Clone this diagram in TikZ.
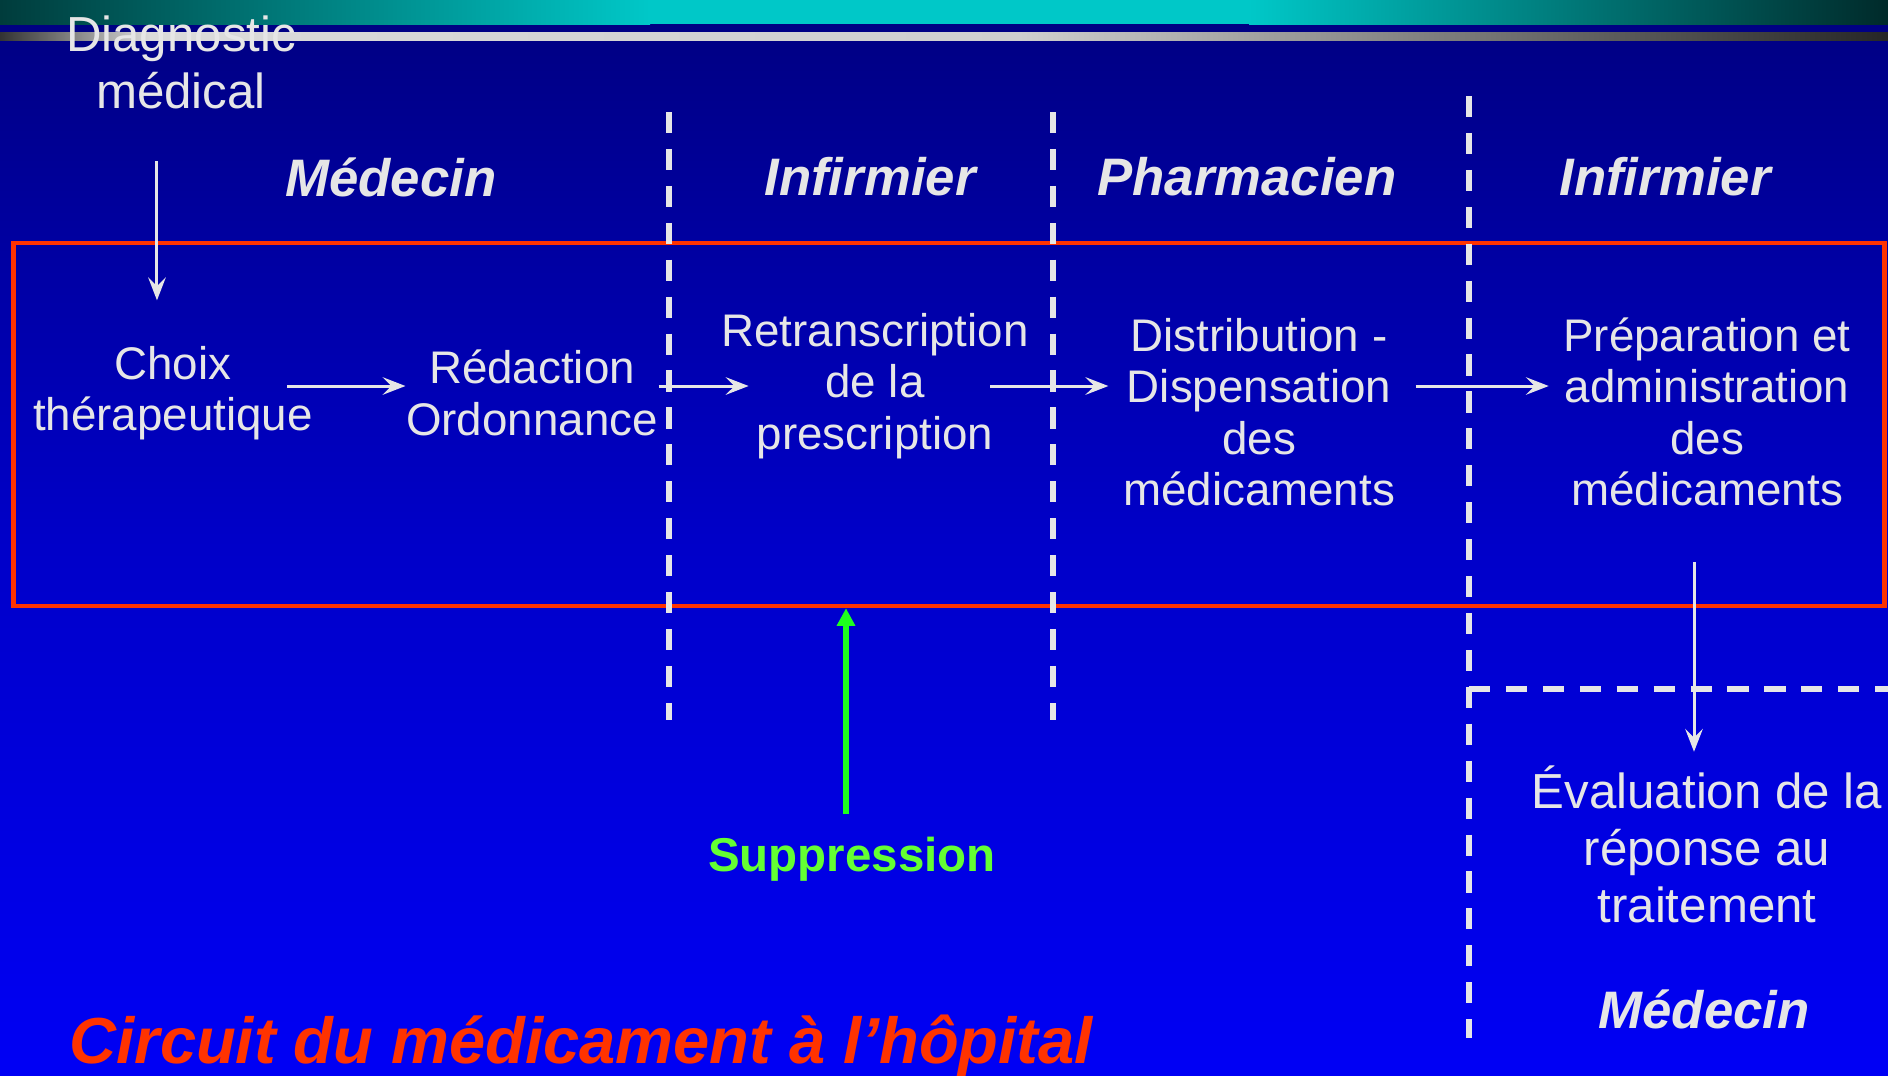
\documentclass[tikz,border=0pt]{standalone}
\usepackage{fontspec}
\setmainfont{Liberation Sans}
\usetikzlibrary{arrows.meta,positioning}

\definecolor{navytop}{RGB}{0,0,128}
\definecolor{bluemid}{RGB}{0,0,200}
\definecolor{bluebot}{RGB}{0,0,245}
\definecolor{tealdark}{RGB}{0,60,60}
\definecolor{tealbright}{RGB}{0,200,200}
\definecolor{redorange}{RGB}{255,51,0}
\definecolor{pale}{RGB}{230,230,230}
\definecolor{supgreen}{RGB}{30,255,30}
\definecolor{suptext}{RGB}{100,255,50}

\tikzset{
    etape/.style={text=pale, align=center, inner sep=0pt, font=\fontsize{13}{14.6}\selectfont},
    titre/.style={text=pale, align=center, inner sep=0pt, font=\fontsize{14}{16.2}\selectfont},
    role/.style={text=pale, inner sep=0pt, font=\fontsize{15}{18}\selectfont\bfseries\itshape},
    fleche/.style={draw=pale, line width=0.85pt, -{Stealth[length=6.5pt, width=5pt, inset=2.5pt]}},
    pointille/.style={draw=pale, line width=1.5pt, dash pattern=on 6pt off 4.5pt},
    cadre/.style={draw=redorange, line width=1.2pt, inner sep=0pt}
}

\begin{document}
\begin{tikzpicture}[x=0.01cm, y=-0.01cm]
    \useasboundingbox (0,0) rectangle (1888,1075);

    % Background
    \shade[top color=navytop, bottom color=bluebot, middle color=bluemid] (0,0) rectangle (1888,1075);
    \shade[left color=tealdark, right color=tealbright] (0,0) rectangle (650,24);
    \fill[tealbright] (649,0) rectangle (1250,24);
    \shade[left color=tealbright, right color=tealdark!70!black] (1249,0) rectangle (1888,24);
    \shade[left color=black!80, right color=pale!95!black] (0,32) rectangle (150,40);
    \shade[left color=pale!95!black, right color=black!85, middle color=pale!90!black] (150,32) rectangle (1888,40);

    % Frame and separators
    \node[cadre, minimum width=18.70cm, minimum height=3.63cm] (box) at (949,424.5) {};
    \draw[pointille] (669,112) -- (669,720);
    \draw[pointille] (1053,112) -- (1053,720);
    \draw[pointille] (1469,96) -- (1469,1038);
    \draw[pointille] (1469,689) -- (1888,689);

    % Roles
    \node[role] (med) at (391,177) {Médecin};
    \node[role] (inf) at (870,177) {Infirmier};
    \node[role] (pharma) at (1247,177) {Pharmacien};
    \node[role] (inf2) at (1665,177) {Infirmier};
    \node[role] (med2) at (1704,1009) {Médecin};

    % Steps
    \node[titre] (diag) at (181,62) {Diagnostic\\médical};
    \node[etape] (choix) at (173,393) {Choix\\thérapeutique};
    \node[etape] (redac) at (532,393) {Rédaction\\Ordonnance};
    \node[etape] (retrans) at (875,386) {Retranscription\\de la\\prescription};
    \node[etape] (distrib) at (1259,412) {Distribution -\\Dispensation\\des\\médicaments};
    \node[etape] (prep) at (1707,412) {Préparation et\\administration\\des\\médicaments};
    \node[titre] (eval) at (1707,844) {Évaluation de la\\réponse au\\traitement};
    \node[text=suptext, inner sep=0pt, font=\fontsize{13.5}{16}\selectfont\bfseries] (supp) at (852,859) {Suppression};

    % Flow
    \draw[fleche, shorten <=0.52cm, shorten >=0.45cm] ([xshift=-0.24cm]diag.south) -- ([xshift=-0.24cm]diag.south |- choix.north);
    \draw[fleche, shorten <=-0.26cm] (choix.east |- retrans.east) -- (redac.west |- retrans.east);
    \draw[fleche, shorten >=-0.28cm] (redac.east |- retrans.east) -- (retrans.west);
    \draw[fleche, shorten <=-0.39cm, shorten >=0.14cm] (retrans.east) -- (retrans.east -| distrib.west);
    \draw[fleche, shorten <=0.2cm, shorten >=0.14cm] (retrans.east -| distrib.east) -- (retrans.east -| prep.west);
    \draw[fleche, shorten <=0.55cm, shorten >=0.13cm] ([xshift=-0.13cm]prep.south) -- ([xshift=-0.13cm]prep.south |- eval.north);
    \draw[draw=supgreen, line width=1.7pt, -{Triangle[length=5pt, width=5pt]}, shorten <=0.22cm] ([xshift=-0.06cm]supp.north) -- ([xshift=-0.06cm]supp.north |- box.south);

    % Title
    \node[text=redorange, anchor=base west, inner sep=0pt, font=\fontsize{18.5}{22}\selectfont\bfseries\itshape] (titre) at (69,1063) {Circuit du médicament à l'hôpital};
\end{tikzpicture}
\end{document}
